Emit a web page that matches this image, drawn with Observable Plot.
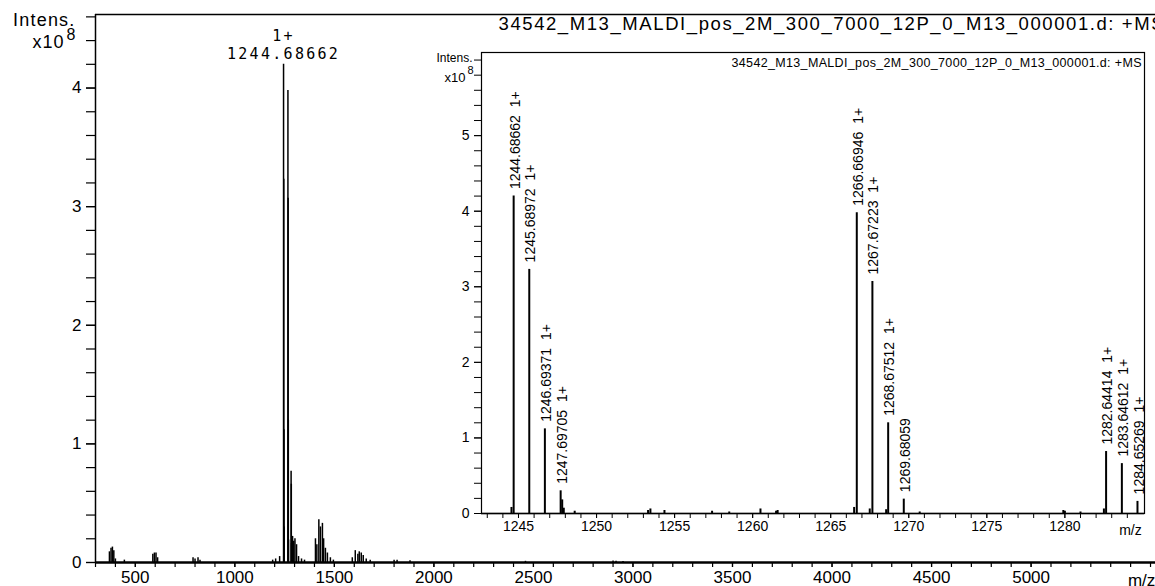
<!DOCTYPE html>
<html><head><meta charset="utf-8">
<script src="https://cdn.jsdelivr.net/npm/d3@7"></script>
<script src="https://cdn.jsdelivr.net/npm/@observablehq/plot@0.6"></script>
<style>
body{margin:0;background:#fff;}
#wrap{position:relative;width:1155px;height:586px;overflow:hidden;background:#fff;}
#inset{position:absolute;left:420px;top:40px;}
</style></head><body><div id="wrap"><div id="main"></div><div id="inset"></div></div>
<script>
// ---- data ----
const titleText = "34542_M13_MALDI_pos_2M_300_7000_12P_0_M13_000001.d: +MS";
const mainMz  = [370, 378, 385, 392, 400, 445, 588, 596, 604, 612, 790, 800, 815, 825, 1190, 1205, 1225,
                 1244.69, 1245.69, 1246.69, 1247.70, 1266.67, 1267.67, 1268.68, 1269.68, 1282.64, 1283.65, 1284.65,
                 1290, 1296, 1302, 1310, 1320, 1335, 1350,
                 1405, 1412, 1422, 1430, 1440, 1446, 1455, 1465, 1480, 1495,
                 1590, 1605, 1618, 1625, 1635, 1645, 1660, 1680,
                 1800, 1815, 1880, 2460, 2900, 2915, 2950];
const mainInt = [0.09, 0.12, 0.13, 0.10, 0.03, 0.02, 0.07, 0.08, 0.08, 0.04, 0.04, 0.03, 0.04, 0.02, 0.02, 0.03, 0.05,
                 4.20, 3.23, 1.12, 0.30, 3.98, 3.07, 1.20, 0.19, 0.77, 0.66, 0.16,
                 0.22, 0.18, 0.20, 0.15, 0.05, 0.03, 0.02,
                 0.20, 0.15, 0.36, 0.30, 0.33, 0.20, 0.12, 0.08, 0.04, 0.02,
                 0.04, 0.10, 0.07, 0.09, 0.08, 0.06, 0.03, 0.02,
                 0.02, 0.02, 0.015, 0.01, 0.012, 0.01, 0.008];
const mainXTicks = [500, 1000, 1500, 2000, 2500, 3000, 3500, 4000, 4500, 5000];
const mainYTicks = [0, 1, 2, 3, 4];

const insetMz  = [1244.55, 1244.69, 1245.69, 1246.69, 1247.70, 1247.80, 1247.90, 1248.6, 1253.3, 1253.45, 1254.35,
                  1257.4, 1258.5, 1260.5, 1261.5, 1261.6, 1266.5, 1266.67, 1267.5, 1267.67, 1268.55, 1268.68,
                  1269.68, 1270.7, 1279.9, 1280.0, 1281.0, 1282.5, 1282.64, 1283.65, 1284.65];
const insetInt = [0.08, 4.20, 3.23, 1.12, 0.30, 0.18, 0.07, 0.03, 0.04, 0.06, 0.04,
                  0.03, 0.02, 0.06, 0.03, 0.04, 0.08, 3.98, 0.06, 3.07, 0.05, 1.20,
                  0.19, 0.02, 0.04, 0.03, 0.02, 0.06, 0.82, 0.66, 0.16];
const labelMz   = [1244.68662, 1245.68972, 1246.69371, 1247.69705, 1266.66946, 1267.67223, 1268.67512, 1269.68059, 1282.64414, 1283.64612, 1284.65269];
const labelInt  = [4.20, 3.23, 1.12, 0.30, 3.98, 3.07, 1.20, 0.19, 0.82, 0.66, 0.16];
const labelText = ["1244.68662 1+", "1245.68972 1+", "1246.69371 1+", "1247.69705 1+", "1266.66946 1+", "1267.67223 1+",
                   "1268.67512 1+", "1269.68059", "1282.64414 1+", "1283.64612 1+", "1284.65269 1+"];
const insetXTicks = [1245, 1250, 1255, 1260, 1265, 1270, 1275, 1280];
const insetYTicks = [0, 1, 2, 3, 4, 5];

// ---- tables ----
const mainData = mainMz.map((m, i) => ({mz: m, v: mainInt[i]}));
const insetData = insetMz.map((m, i) => ({mz: m, v: insetInt[i]}));
const labels = labelMz.map((m, i) => ({mz: m, v: labelInt[i], t: labelText[i]}));
const font = "'Liberation Sans', Arial, sans-serif";
const mono = "'DejaVu Sans Mono', monospace";
const noLabel = () => "";

const mainX = [300, 5625], mainY = [0, 4.62];
const main = Plot.plot({
  width: 1155, height: 586, marginLeft: 95, marginRight: 0, marginTop: 14, marginBottom: 24,
  x: {domain: mainX, axis: null},
  y: {domain: mainY, axis: null},
  style: {fontFamily: font, fontSize: "17px", background: "white", overflow: "hidden"},
  marks: [
    Plot.ruleX(mainData, {x: "mz", y1: 0, y2: "v", stroke: "black", strokeWidth: 1.5}),
    Plot.ruleY([mainY[1]], {stroke: "black", strokeWidth: 1.5}),
    Plot.ruleX([mainX[0]], {stroke: "black", strokeWidth: 1.5}),
    Plot.ruleY([0], {stroke: "black", strokeWidth: 2.5}),
    Plot.axisY({ticks: d3.range(0, 4.61, 0.2), tickFormat: noLabel, tickSize: 9, label: null, strokeWidth: 1.2}),
    Plot.axisY({ticks: mainYTicks, tickFormat: "d", tickSize: 9, tickPadding: 5, fontSize: 17, label: null, strokeWidth: 1.2}),
    Plot.axisX({ticks: d3.range(300, 5601, 100), tickFormat: noLabel, tickSize: 5, label: null, strokeWidth: 1.2}),
    Plot.axisX({ticks: mainXTicks, tickFormat: d => String(d), tickSize: 5, tickPadding: 3, fontSize: 17, label: null, strokeWidth: 1.2}),
    Plot.text(["m/z"], {x: 5555, y: 0, dy: 18, fontSize: 17}),
    Plot.text(["Intens."], {x: mainX[0], y: 4.57, dx: -20, textAnchor: "end", fontSize: 18}),
    Plot.text(["x10"], {x: mainX[0], y: 4.39, dx: -31, textAnchor: "end", fontSize: 18}),
    Plot.text(["8"], {x: mainX[0], y: 4.45, dx: -20, textAnchor: "end", fontSize: 16}),
    Plot.text([labels[0]], {x: "mz", y: "v", text: () => "1+", dy: -28, fontSize: 15, fontFamily: mono}),
    Plot.text([labels[0]], {x: "mz", y: "v", text: d => d.t.split(" ")[0], dy: -10, fontSize: 15, fontFamily: mono}),
    Plot.text([titleText], {frameAnchor: "top-right", dx: 8, dy: 10, textAnchor: "end", lineAnchor: "middle", fontSize: 18.5})
  ]
});
document.getElementById("main").appendChild(main);

const insetX = [1242.63, 1285.1], insetY = [0, 6.1];
const inset = Plot.plot({
  width: 735, height: 500, marginLeft: 61, marginRight: 11, marginTop: 12, marginBottom: 27,
  x: {domain: insetX, axis: null},
  y: {domain: insetY, axis: null},
  style: {fontFamily: font, fontSize: "14px", background: "white"},
  marks: [
    Plot.frame({stroke: "black", strokeWidth: 1.2}),
    Plot.ruleX(insetData, {x: "mz", y1: 0, y2: "v", stroke: "black", strokeWidth: 2}),
    Plot.ruleY([0], {stroke: "black", strokeWidth: 1.5}),
    Plot.axisY({ticks: d3.range(0, 6.01, 0.2), tickFormat: noLabel, tickSize: 7, label: null}),
    Plot.axisY({ticks: insetYTicks, tickFormat: "d", tickSize: 7, tickPadding: 5, fontSize: 14, label: null}),
    Plot.axisX({ticks: d3.range(1243, 1285, 1), tickFormat: noLabel, tickSize: 5, label: null}),
    Plot.axisX({ticks: insetXTicks, tickFormat: d => String(d), tickSize: 5, tickPadding: 3, fontSize: 14, label: null}),
    Plot.text(["m/z"], {x: 1284.2, y: 0, dy: 17, fontSize: 14}),
    Plot.text(labels, {x: "mz", y: "v", text: "t", rotate: -90, textAnchor: "start", lineAnchor: "middle", dy: -7, dx: 1.5, fontSize: 14}),
    Plot.text(["Intens."], {x: insetX[0], y: 6.02, dx: -9, textAnchor: "end", fontSize: 12}),
    Plot.text(["x10"], {x: insetX[0], y: 5.77, dx: -16, textAnchor: "end", fontSize: 13}),
    Plot.text(["8"], {x: insetX[0], y: 5.86, dx: -8, textAnchor: "end", fontSize: 11}),
    Plot.text([titleText], {frameAnchor: "top-right", dx: -3, dy: 10, textAnchor: "end", lineAnchor: "middle", fontSize: 12.5})
  ]
});
document.getElementById("inset").appendChild(inset);

// text spacing tweaks to match the reference widths
const byText = (svg, s) => d3.select(svg).selectAll("text").filter(function () { return this.textContent === s; });
byText(main, titleText).attr("textLength", 665).attr("lengthAdjust", "spacing");
byText(inset, titleText).attr("textLength", 410).attr("lengthAdjust", "spacing");
byText(main, "1244.68662").style("letter-spacing", "2.3px");
byText(main, "1+").style("letter-spacing", "2.3px");
byText(main, "Intens.").style("letter-spacing", "1.2px");
byText(main, "x10").style("letter-spacing", "1px");
d3.select(inset).selectAll("text").filter(function () { return / 1\+$/.test(this.textContent); }).style("word-spacing", "4px");
</script></body></html>
